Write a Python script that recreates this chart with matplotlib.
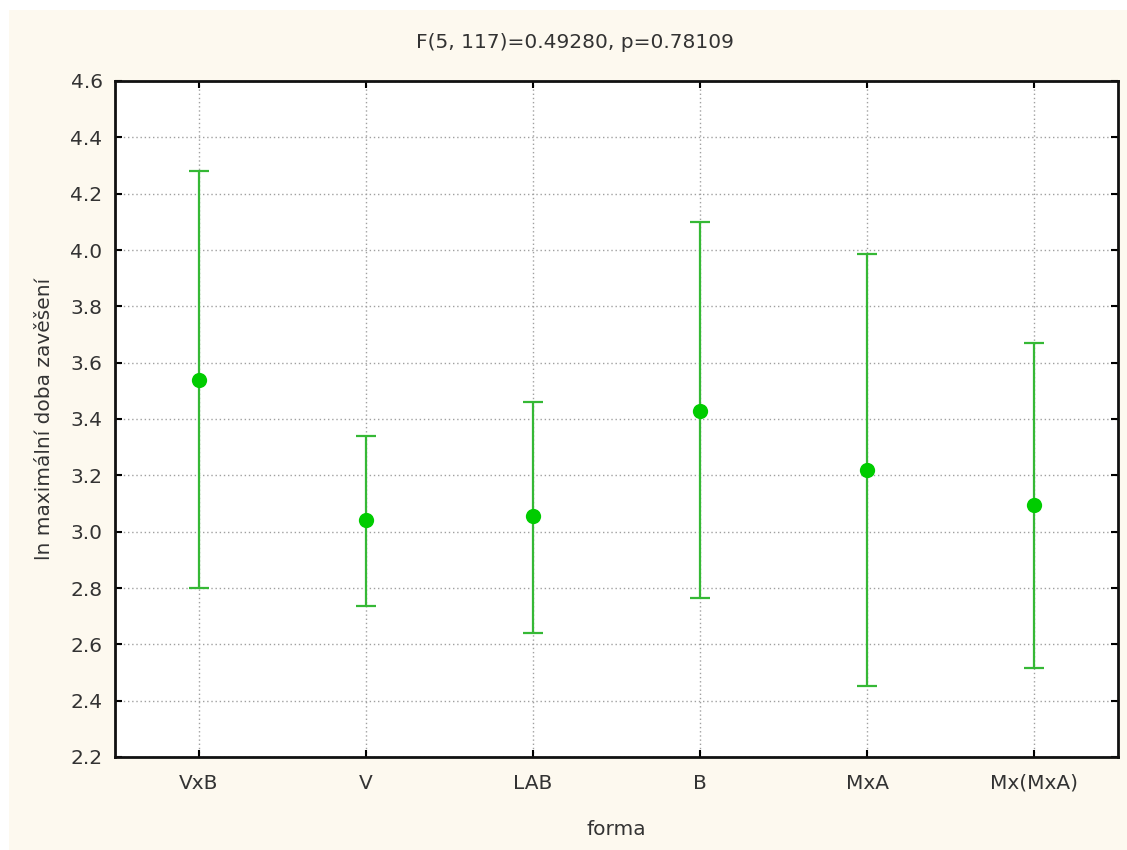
import matplotlib.pyplot as plt
from matplotlib.patches import Rectangle

# Group means and 95% confidence limits
forma = ['VxB', 'V', 'LAB', 'B', 'MxA', 'Mx(MxA)']
means = [3.54, 3.04, 3.055, 3.43, 3.22, 3.095]
upper = [4.28, 3.34, 3.46, 4.10, 3.985, 3.67]
lower = [2.80, 2.735, 2.64, 2.765, 2.452, 2.515]

plt.rcParams['font.family'] = ['DejaVu Sans']
fs = 14.5
txt = '#333333'

fig = plt.figure(figsize=(11.27, 8.5), dpi=100)
fig.patch.set_facecolor('white')
# cream panel behind everything, leaving a thin white strip on top and left
fig.patches.append(Rectangle((9 / 1127, 0), 1, 1 - 10 / 850, transform=fig.transFigure,
                             facecolor='#fdf9ef', edgecolor='none', zorder=-10))

ax = fig.add_axes([115 / 1127, 1 - 757 / 850, (1118 - 115) / 1127, (757 - 81) / 850])
ax.set_facecolor('white')

x = list(range(len(forma)))
err_lo = [m - l for m, l in zip(means, lower)]
err_hi = [u - m for u, m in zip(upper, means)]
ax.errorbar(x, means, yerr=[err_lo, err_hi], fmt='none', ecolor='#35b835',
            elinewidth=1.6, capsize=7.5, capthick=1.6, zorder=3)
ax.plot(x, means, 'o', color='#00cc00', markersize=11, markeredgewidth=0, zorder=4)

ax.set_xlim(-0.5, len(forma) - 0.5)
ax.set_ylim(2.2, 4.6)
ax.set_yticks([2.2 + 0.2 * i for i in range(13)])
ax.set_yticklabels([f'{2.2 + 0.2 * i:.1f}' for i in range(13)])
ax.set_xticks(x)
ax.set_xticklabels(forma)

ax.grid(True, linestyle=(0, (1, 2)), color='#a0a0a0', linewidth=1.0, zorder=0)
ax.set_axisbelow(True)
ax.tick_params(direction='in', length=5, width=1.5, top=True, right=True,
               labelsize=fs, labelcolor=txt)
ax.tick_params(axis='x', pad=12)
ax.tick_params(axis='y', pad=9)
for sp in ax.spines.values():
    sp.set_linewidth(2)
    sp.set_color('#111111')

ax.set_xlabel('forma', fontsize=fs, color=txt, labelpad=20)
ax.set_ylabel('ln maximální doba zavěšení', fontsize=fs, color=txt, labelpad=12)
fig.text(575 / 1127, 1 - 43 / 850, 'F(5, 117)=0.49280, p=0.78109', ha='center', va='center',
         fontsize=fs, color=txt)

fig.savefig('out.png', dpi=100, facecolor=fig.get_facecolor())
